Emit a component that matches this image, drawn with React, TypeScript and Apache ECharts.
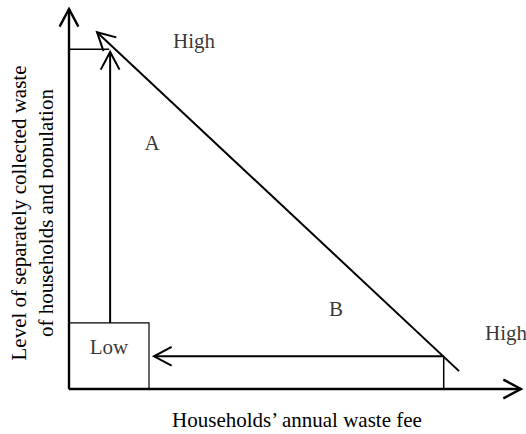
import { useEffect, useRef } from "react";
import * as echarts from "echarts";

// Conceptual scale: both axes run 0..100 (Low .. High)
const X_MAX = 100;
const Y_MAX = 100;

// Segments as [x1, y1, x2, y2] in conceptual units
const axisSegments = [
  [0, 0, 0, 100],
  [0, 0, 100, 0],
];
const arrowSegments = [
  [9.1, 17.4, 9.1, 88.7],
  [86.3, 4.7, 6.2, 93.9],
  [82.9, 8.6, 18.8, 8.6],
];
const guideSegments = [
  [0, 89.4, 8.9, 89.4],
  [82.9, 0, 82.9, 8.6],
];
const lowBox = [[0, 0, 17.7, 17.4]];

const labelNames = ["High", "A", "B", "High", "Low"];
const labelX = [27.65, 18.36, 59.07, 96.68, 8.85];
const labelY = [91.6, 64.7, 21.05, 14.74, 11.05];

const xTitle = "Households\u2019 annual waste fee";
const yTitle = ["Level of separately collected waste", "of households and population"];

const FONT = '"Liberation Serif", "Times New Roman", serif';

function segmentRenderer(lineWidth: number, arrow: boolean) {
  return (_params: any, api: any) => {
    const p1 = api.coord([api.value(0), api.value(1)]);
    const p2 = api.coord([api.value(2), api.value(3)]);
    const children: any[] = [
      {
        type: "line",
        shape: { x1: p1[0], y1: p1[1], x2: p2[0], y2: p2[1] },
        style: { stroke: "#000", lineWidth, fill: null },
      },
    ];
    if (arrow) {
      const dx = p1[0] - p2[0];
      const dy = p1[1] - p2[1];
      const len = Math.sqrt(dx * dx + dy * dy) || 1;
      const ux = dx / len;
      const uy = dy / len;
      const L = 20;
      const th = (28 * Math.PI) / 180;
      const c = Math.cos(th);
      const s = Math.sin(th);
      const w1 = [p2[0] + L * (ux * c - uy * s), p2[1] + L * (ux * s + uy * c)];
      const w2 = [p2[0] + L * (ux * c + uy * s), p2[1] + L * (-ux * s + uy * c)];
      children.push({
        type: "polyline",
        shape: { points: [w1, p2, w2] },
        style: { stroke: "#000", lineWidth, fill: null, lineJoin: "miter" },
      });
    }
    return { type: "group", children };
  };
}

export default function App() {
  const ref = useRef<HTMLDivElement>(null);

  useEffect(() => {
    if (!ref.current) return;
    const chart = echarts.init(ref.current, null, { renderer: "svg" });
    chart.setOption({
      animation: false,
      backgroundColor: "#fff",
      grid: { left: 69, right: 5, top: 9, bottom: 45 },
      xAxis: { type: "value", min: 0, max: X_MAX, show: false },
      yAxis: { type: "value", min: 0, max: Y_MAX, show: false },
      series: [
        {
          type: "custom",
          name: "box",
          clip: false,
          data: lowBox,
          renderItem: (_p: any, api: any) => {
            const a = api.coord([api.value(0), api.value(1)]);
            const b = api.coord([api.value(2), api.value(3)]);
            return {
              type: "rect",
              shape: {
                x: Math.min(a[0], b[0]),
                y: Math.min(a[1], b[1]),
                width: Math.abs(b[0] - a[0]),
                height: Math.abs(b[1] - a[1]),
              },
              style: { stroke: "#000", lineWidth: 1.2, fill: null },
            };
          },
        },
        {
          type: "custom",
          name: "guides",
          clip: false,
          data: guideSegments,
          renderItem: segmentRenderer(1.5, false),
        },
        {
          type: "custom",
          name: "arrows",
          clip: false,
          data: arrowSegments,
          renderItem: segmentRenderer(2, true),
        },
        {
          type: "custom",
          name: "axes",
          clip: false,
          data: axisSegments,
          renderItem: segmentRenderer(2.4, true),
        },
        {
          type: "scatter",
          name: "labels",
          symbolSize: 1,
          itemStyle: { color: "rgba(0,0,0,0)" },
          data: labelNames.map((n, i) => ({ name: n, value: [labelX[i], labelY[i]] })),
          label: {
            show: true,
            position: "inside",
            formatter: "{b}",
            color: "#000",
            fontFamily: FONT,
            fontSize: 21,
          },
        },
      ],
      graphic: [
        {
          type: "text",
          x: 297,
          y: 420,
          z: 10,
          style: {
            text: xTitle,
            fill: "#000",
            fontFamily: FONT,
            fontSize: 21,
            align: "center",
            verticalAlign: "middle",
          },
        },
        {
          type: "text",
          x: 32,
          y: 213,
          rotation: Math.PI / 2,
          z: 10,
          style: {
            text: yTitle.join("\n"),
            fill: "#000",
            fontFamily: FONT,
            fontSize: 21,
            lineHeight: 27,
            align: "center",
            verticalAlign: "middle",
          },
        },
        {
          type: "rect",
          z: 20,
          shape: { x: 53.5, y: 60, width: 12.5, height: 320 },
          style: { fill: "#fff" },
        },
      ],
    });
    return () => chart.dispose();
  }, []);

  return (
    <div
      ref={ref}
      style={{ position: "absolute", left: 0, top: 0, width: 526, height: 434 }}
    />
  );
}
